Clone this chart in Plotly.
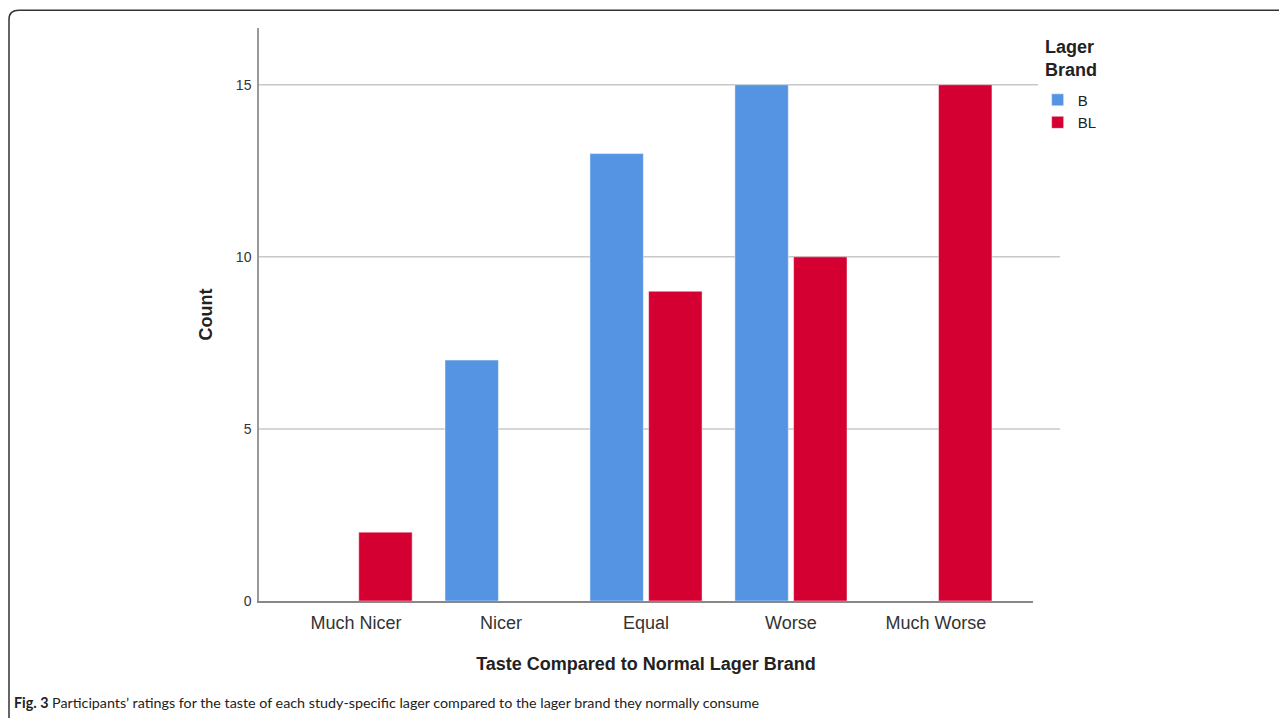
import plotly.graph_objects as go

categories = ["Much Nicer", "Nicer", "Equal", "Worse", "Much Worse"]
brand_b = [0, 7, 13, 15, 0]
brand_bl = [2, 0, 9, 10, 15]
y_ticks = [0, 5, 10, 15]

BLUE = "#5594E3"
RED = "#D50032"
FONT = "Liberation Sans, Arial, sans-serif"

fig = go.Figure()
fig.add_trace(go.Bar(name="B", x=categories, y=brand_b,
                     marker=dict(color=BLUE, line=dict(color="rgba(255,255,255,0.45)", width=1))))
fig.add_trace(go.Bar(name="BL", x=categories, y=brand_bl,
                     marker=dict(color=RED, line=dict(color="rgba(255,255,255,0.45)", width=1))))

# gridlines extended slightly past plot area (as in reference)
for t in y_ticks[1:]:
    fig.add_shape(type="line", xref="paper", yref="y", x0=0, x1=1.035, y0=t, y1=t,
                  line=dict(color="#C8C8C8", width=1.5), layer="below")

# rounded frame (left + top)
fig.add_shape(type="path", xref="paper", yref="paper",
              path="M -0.3230,-0.204 L -0.3230,1.015 Q -0.3230,1.031 -0.310,1.031 L 1.33,1.031",
              line=dict(color="#333333", width=1.5))

# legend title
fig.add_annotation(xref="paper", yref="paper", x=1.0135, y=0.987, xanchor="left", yanchor="top",
                   showarrow=False, align="left", text="<b>Lager<br>Brand</b>",
                   font=dict(family=FONT, size=18, color="#222222"))

fig.add_annotation(xref="paper", yref="paper", x=-0.3185, y=-0.178, xanchor="left", yanchor="middle",
                   showarrow=False, align="left",
                   text="<b>Fig. 3</b> Participants’ ratings for the taste of each study-specific lager compared to the lager brand they normally consume",
                   font=dict(family="Lato, Open Sans, sans-serif", size=14.3, color="#222222"))

fig.update_layout(
    width=1279, height=714,
    margin=dict(l=251, r=254, t=20, b=121),
    paper_bgcolor="white", plot_bgcolor="white",
    barmode="group", bargap=0.19, bargroupgap=0.09,
    font=dict(family=FONT, color="#222222"),
    showlegend=True,
    legend=dict(x=1.006, y=0.903, xanchor="left", yanchor="top",
                font=dict(size=15, family=FONT), tracegroupgap=0, itemwidth=30),
    xaxis=dict(range=[-0.67, 4.67], showline=True, linecolor="#888888", linewidth=1.5,
               showgrid=False, ticks="", tickfont=dict(size=18, color="#333333"),
               ticklabelstandoff=5,
               title=dict(text="<b>Taste Compared to Normal Lager Brand</b>", font=dict(size=18), standoff=25)),
    yaxis=dict(range=[0, 16.65], tickvals=y_ticks, showline=True, linecolor="#999999", linewidth=1.5,
               showgrid=False, zeroline=False, ticks="", tickfont=dict(size=14, color="#333333"),
               ticklabelstandoff=3,
               title=dict(text="<b>Count</b>", font=dict(size=18), standoff=19)),
)

fig.write_html("out.html")
